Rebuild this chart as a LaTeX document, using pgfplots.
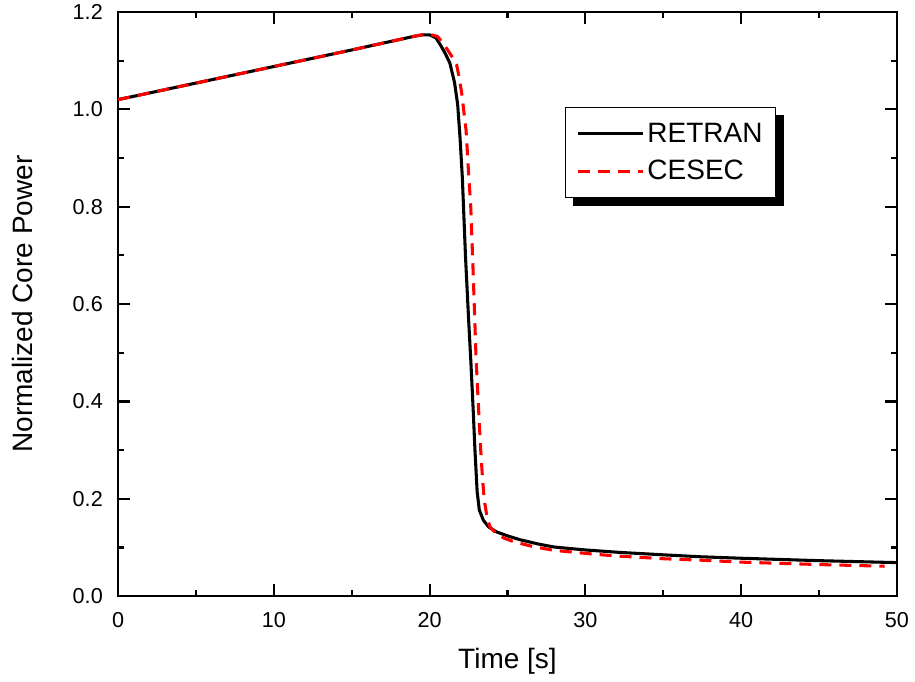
\documentclass[border=0pt]{standalone}
\usepackage{pgfplots}
\pgfplotsset{compat=1.18}
\usepackage{fontspec}
\setmainfont{Liberation Sans}
\usetikzlibrary{backgrounds}

\begin{document}
\begin{tikzpicture}
\begin{axis}[
  name=ax,
  scale only axis,
  width=584pt, height=438pt,
  xmin=0, xmax=50, ymin=0, ymax=1.2,
  xtick={0,10,...,50},
  ytick={0,0.2,...,1.2},
  minor tick num=1,
  tick align=inside,
  tick pos=both,
  xticklabel pos=bottom, yticklabel pos=left,
  major tick length=9pt, minor tick length=4.5pt,
  every tick/.style={black, line width=1.6pt},
  axis line style={line width=1.9pt},
  /pgf/number format/assume math mode=true,
  /pgf/number format/fixed,
  /pgf/number format/fixed zerofill,
  /pgf/number format/precision=1,
  every tick label/.append style={font=\fontsize{16.2}{19}\selectfont, inner sep=0pt},
  xticklabel style={/pgf/number format/precision=0, /pgf/number format/fixed zerofill=false, yshift=-12pt},
  yticklabel style={xshift=-11.25pt},
  every axis label/.append style={font=\fontsize{21}{25}\selectfont, inner sep=0pt},
  xlabel={Time [s]},
  ylabel={Normalized Core Power},
  every axis x label/.style={at={(axis description cs:0.5,-0.089)}, anchor=north},
  every axis y label/.style={at={(axis description cs:-0.109,0.5)}, rotate=90, anchor=south},
  legend style={
    name=leg,
    at={(0.574,0.837)}, anchor=north west,
    draw=black, line width=0.8pt, fill=white,
    font=\fontsize{21}{28}\selectfont,
    inner xsep=8pt, inner ysep=9.5pt,
    row sep=8pt,
  },
  legend cell align=left,
  legend image code/.code={
    \draw[#1] (0pt,0pt) -- (49pt,0pt);
  },
  every axis plot/.append style={line width=2.3pt, line join=round},
]
\addplot[black] coordinates {
(0,1.020) (5,1.054) (10,1.088) (15,1.122) (19,1.150) (19.5,1.153)
(20.0,1.153) (20.4,1.147) (20.7,1.132) (21.0,1.115) (21.3,1.095)
(21.6,1.055) (21.8,1.010) (21.95,0.943) (22.1,0.86) (22.3,0.70)
(22.5,0.57) (22.65,0.48) (22.8,0.38) (22.91,0.30) (23.05,0.215)
(23.19,0.177) (23.45,0.156) (23.8,0.142) (24.3,0.132) (25.0,0.124)
(25.8,0.116) (27.0,0.107) (28.0,0.101) (30.0,0.095) (32.2,0.090)
(35,0.085) (37.4,0.081) (40,0.078) (45,0.073) (50,0.069)
};
\addlegendentry{RETRAN}
\addplot[red, dash pattern=on 9pt off 6pt] coordinates {
(0,1.020) (5,1.054) (10,1.088) (15,1.122) (19,1.150) (19.5,1.153)
(20.0,1.154) (20.5,1.150) (20.8,1.138) (21.2,1.120) (21.5,1.105)
(21.73,1.092) (21.9,1.065) (22.06,1.033) (22.2,0.995) (22.34,0.957)
(22.49,0.875) (22.64,0.80) (22.8,0.66) (22.98,0.49) (23.15,0.38)
(23.28,0.30) (23.4,0.24) (23.51,0.197) (23.7,0.16) (23.88,0.142)
(24.3,0.128) (24.8,0.119) (25.4,0.112) (26.5,0.103) (27.9,0.0945)
(30,0.088) (31.8,0.083) (35,0.077) (37.4,0.074) (40,0.070) (45,0.065)
(49.2,0.0616)
};
\addlegendentry{CESEC}
\end{axis}
\begin{scope}[on background layer]
  \fill[black] ([shift={(6pt,-6pt)}]leg.south west) rectangle ([shift={(6pt,-6pt)}]leg.north east);
\end{scope}
\path ([xshift=-88.5pt, yshift=-63.75pt]ax.south west) rectangle ([xshift=13.5pt, yshift=9pt]ax.north east);
\end{tikzpicture}
\end{document}
